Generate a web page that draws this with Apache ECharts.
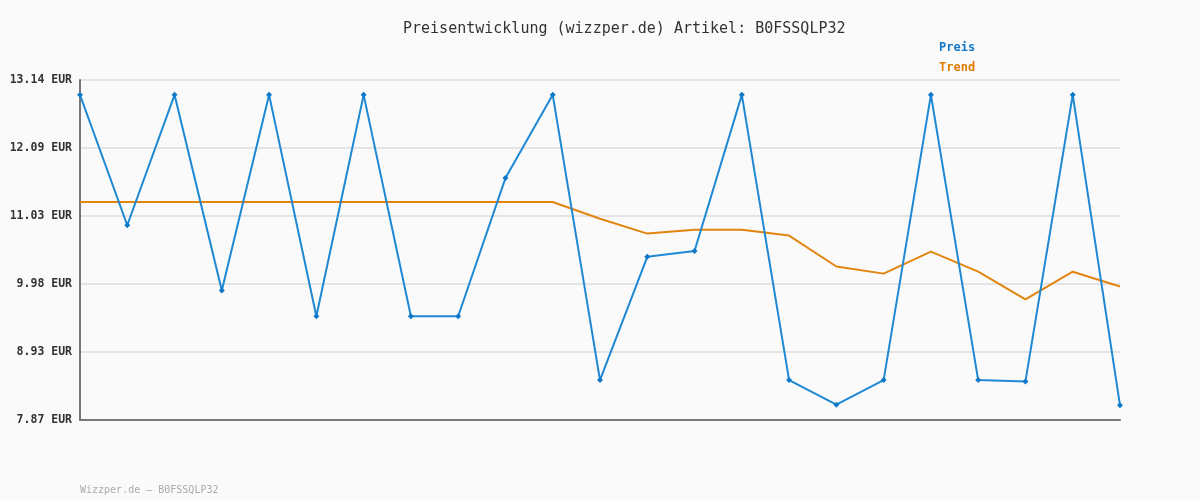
<!DOCTYPE html>
<html>
<head>
<meta charset="utf-8">
<script src="https://cdn.jsdelivr.net/npm/echarts@6/dist/echarts.min.js"></script>
<style>
html,body{margin:0;padding:0;background:#fafafa;}
#c{width:1200px;height:500px;}
</style>
</head>
<body>
<div id="c"></div>
<script>
const categories = Array.from({length: 23}, (_, i) => String(i + 1));
const preis = [12.91, 10.89, 12.91, 9.88, 12.91, 9.48, 12.91, 9.48, 9.48, 11.62, 12.91, 8.49, 10.40, 10.49, 12.91, 8.49, 8.11, 8.49, 12.91, 8.49, 8.47, 12.91, 8.10];
const trend = [11.25, 11.25, 11.25, 11.25, 11.25, 11.25, 11.25, 11.25, 11.25, 11.25, 11.25, 10.99, 10.76, 10.82, 10.82, 10.73, 10.25, 10.14, 10.48, 10.17, 9.74, 10.17, 9.94];
const yTickValues = [7.872, 8.9256, 9.9792, 11.0328, 12.0864, 13.14];
const yTickLabels = ['7.87 EUR', '8.93 EUR', '9.98 EUR', '11.03 EUR', '12.09 EUR', '13.14 EUR'];
const titleText = 'Preisentwicklung (wizzper.de) Artikel: B0FSSQLP32';
const footerText = 'Wizzper.de \u2013 B0FSSQLP32';

const mono = '"DejaVu Sans Mono", "Liberation Mono", monospace';
const chart = echarts.init(document.getElementById('c'), null, {renderer: 'canvas'});
chart.setOption({
  backgroundColor: '#fafafa',
  animation: false,
  title: [{
    text: titleText,
    left: 398, top: 17,
    textStyle: {fontFamily: mono, fontSize: 15, fontWeight: 'normal', color: '#333'}
  }, {
    text: footerText,
    left: 75, top: 480,
    textStyle: {fontFamily: mono, fontSize: 10, fontWeight: 'normal', color: '#aaa'}
  }],
  legend: {
    orient: 'vertical', left: 929, top: 37, itemWidth: 0, itemHeight: 0, itemGap: 8,
    icon: 'none',
    textStyle: {fontFamily: mono, fontSize: 12, fontWeight: 'bold'},
    data: [
      {name: 'Preis', textStyle: {color: '#1478c8'}},
      {name: 'Trend', textStyle: {color: '#e07b00'}}
    ]
  },
  grid: {left: 80, right: 80, top: 80, bottom: 80, containLabel: false},
  xAxis: {
    type: 'category', data: categories, boundaryGap: false,
    axisLine: {show: true, lineStyle: {color: '#777', width: 2}},
    axisTick: {show: false}, axisLabel: {show: false}, splitLine: {show: false}
  },
  yAxis: {
    type: 'value', min: 7.872, max: 13.14,
    axisLine: {show: true, lineStyle: {color: '#777', width: 2}},
    axisTick: {show: false, customValues: yTickValues},
    axisLabel: {
      customValues: yTickValues,
      margin: 8,
      fontFamily: mono, fontSize: 11.5, fontWeight: 'bold', color: '#333',
      formatter: function (v) {
        let best = 0;
        yTickValues.forEach((t, i) => { if (Math.abs(t - v) < Math.abs(yTickValues[best] - v)) best = i; });
        return yTickLabels[best];
      }
    },
    splitLine: {show: true, lineStyle: {color: '#e4e4e4', width: 2}}
  },
  series: [{
    name: 'Preis', type: 'line', data: preis,
    lineStyle: {color: '#1e88d4', width: 2},
    itemStyle: {color: '#0f78c8'},
    symbol: 'diamond', symbolSize: 6, showSymbol: true,
    z: 3
  }, {
    name: 'Trend', type: 'line', data: trend,
    lineStyle: {color: '#e2850f', width: 2},
    itemStyle: {color: '#e2850f'},
    symbol: 'none',
    z: 2
  }]
});
</script>
</body>
</html>
